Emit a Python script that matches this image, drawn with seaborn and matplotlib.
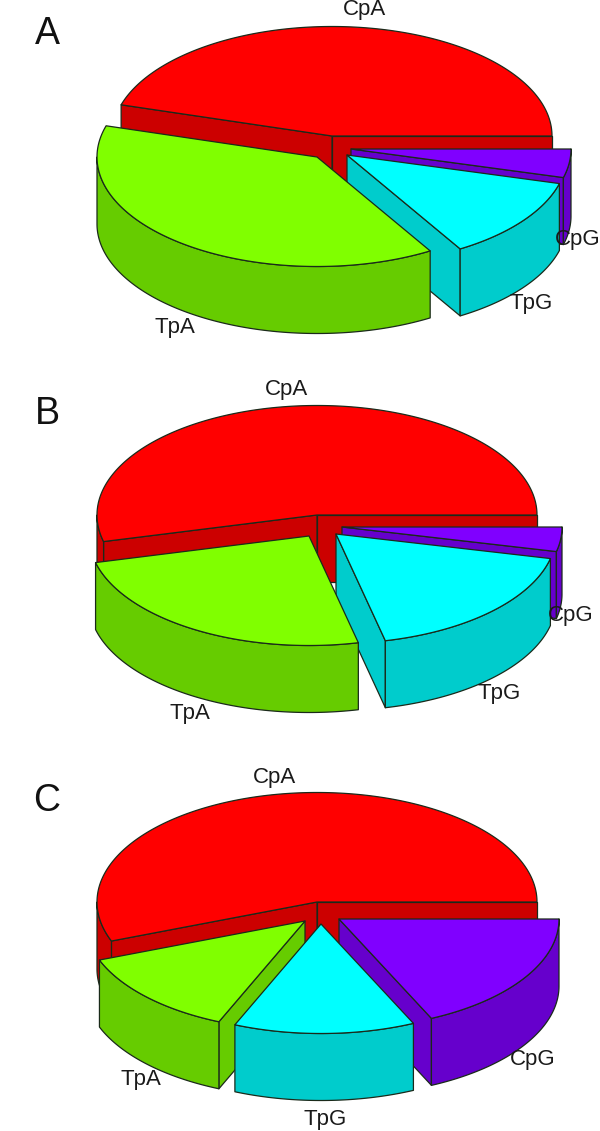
import numpy as np
import pandas as pd
import seaborn as sns
import matplotlib
matplotlib.use("Agg")
import matplotlib.pyplot as plt
from matplotlib.patches import Polygon

categories = ["CpA", "TpA", "TpG", "CpG"]
panel_names = ["A", "B", "C"]
values_a = [45.4, 38.2, 12.2, 4.2]
values_b = [53.9, 24.7, 17.8, 3.6]
values_c = [55.8, 12.8, 13.3, 18.1]

top_colors = sns.color_palette(["#FF0000", "#80FF00", "#00FFFF", "#8000FF"])
side_colors = sns.color_palette(["#CC0000", "#66CC00", "#00CCCC", "#6600CC"])

sns.set_theme(style="white")
plt.rcParams["font.family"] = ["Liberation Sans", "DejaVu Sans"]

# layout, in pixels of the 600x1131 canvas
RX, RY, DEPTH = 220, 109.5, 67
layout = {
    "A": dict(apex=[(332, 136), (317, 157), (347, 155), (351, 149)], order=[0, 3, 2, 1],
              labels=[(365, 10), (175, 328), (531, 303), (578, 240)], letter=(47, 34)),
    "B": dict(apex=[(317, 515), (309, 536), (336, 534), (342, 527)], order=[0, 3, 2, 1],
              labels=[(287, 390), (190, 714), (499, 694), (571, 616)], letter=(47, 414)),
    "C": dict(apex=[(317, 902), (305, 921), (321, 924), (339, 919)], order=[0, 3, 1, 2],
              labels=[(274, 777), (141, 1079), (325, 1120), (533, 1059)], letter=(47, 801)),
}
panels = pd.DataFrame({"A": values_a, "B": values_b, "C": values_c}, index=categories)


def rim_point(c, t):
    t = np.asarray(t, dtype=float)
    return np.column_stack([c[0] + RX * np.cos(t), c[1] - RY * np.sin(t)])


def draw_slice(ax, c, a, b, top, side):
    edge = dict(edgecolor="#1a2a1a", linewidth=0.9, joinstyle="round")
    c = np.array(c, dtype=float)
    down = np.array([0, DEPTH])
    pa, pb = rim_point(c, a)[0], rim_point(c, b)[0]
    if np.cos(a) > 0:
        ax.add_patch(Polygon([c, pa, pa + down, c + down], facecolor=side, **edge))
    if np.cos(b) < 0:
        ax.add_patch(Polygon([c, pb, pb + down, c + down], facecolor=side, **edge))
    lo, hi = max(a, np.pi), min(b, 2 * np.pi)
    if hi > lo:
        arc = rim_point(c, np.linspace(lo, hi, 120))
        ax.add_patch(Polygon(np.vstack([arc, (arc + down)[::-1]]), facecolor=side, **edge))
    arc = rim_point(c, np.linspace(a, b, 200))
    ax.add_patch(Polygon(np.vstack([c, arc]), facecolor=top, **edge))


fig = plt.figure(figsize=(6, 11.31), dpi=100, facecolor="white")
ax = fig.add_axes([0, 0, 1, 1])
ax.set_xlim(0, 600)
ax.set_ylim(1131, 0)
ax.axis("off")

for name in panel_names:
    cfg = layout[name]
    vals = panels[name].to_numpy()
    edges = np.concatenate([[0], np.cumsum(vals)]) / vals.sum() * 2 * np.pi
    for i in cfg["order"]:
        draw_slice(ax, cfg["apex"][i], edges[i], edges[i + 1], top_colors[i], side_colors[i])
    for cat, (x, y) in zip(categories, cfg["labels"]):
        ax.text(x, y, cat, ha="center", va="center", fontsize=16, color="#1a1a1a")
    ax.text(*cfg["letter"], name, ha="center", va="center", fontsize=27, color="#111111")

fig.savefig("out.png", dpi=100)
